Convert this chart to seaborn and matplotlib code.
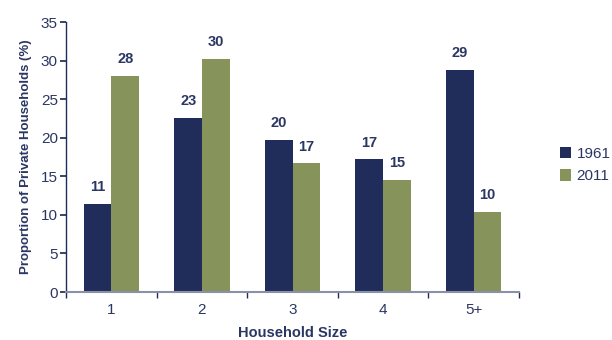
import matplotlib
matplotlib.use("Agg")
import matplotlib.pyplot as plt
import seaborn as sns
import pandas as pd
import numpy as np

categories = ["1", "2", "3", "4", "5+"]
years = ["1961", "2011"]
values_1961 = [11.4, 22.6, 19.7, 17.2, 28.8]
values_2011 = [28.0, 30.2, 16.7, 14.5, 10.4]
labels_1961 = ["11", "23", "20", "17", "29"]
labels_2011 = ["28", "30", "17", "15", "10"]

df = pd.DataFrame({
    "size": categories * 2,
    "year": [years[0]] * 5 + [years[1]] * 5,
    "value": values_1961 + values_2011,
    "label": labels_1961 + labels_2011,
})

navy = "#202D5A"
olive = "#86935B"
txt = "#2B3763"

sns.set_theme(style="white")
plt.rcParams["font.family"] = ["Liberation Sans", "DejaVu Sans"]

fig = plt.figure(figsize=(6.12, 3.4), dpi=100)
ax = fig.add_axes([0.108, 0.141, 0.740, 0.794])

sns.barplot(data=df, x="size", y="value", hue="year", order=categories,
            hue_order=years, palette=[navy, olive], width=0.61,
            saturation=1, linewidth=0, ax=ax, legend=True)

for container, labs in zip(ax.containers, [labels_1961, labels_2011]):
    ax.bar_label(container, labels=labs, padding=7, fontsize=10.5,
                 fontweight="bold", color=txt)

ax.set_ylim(0, 35)
ax.set_yticks(np.arange(0, 36, 5))
ax.set_xlim(-0.5, 4.5)
ax.set_ylabel("Proportion of Private Households (%)", fontsize=9.5,
              fontweight="bold", color=txt, labelpad=6)
ax.set_xlabel("Household Size", fontsize=10.5, fontweight="bold", color=txt,
              labelpad=6)

for s in ["top", "right"]:
    ax.spines[s].set_visible(False)
ax.spines["left"].set_color(navy)
ax.spines["left"].set_linewidth(1.0)
ax.spines["bottom"].set_color("#8A90A8")
ax.spines["bottom"].set_linewidth(1.5)

ax.tick_params(axis="y", which="major", direction="out", length=4,
               color=navy, labelsize=11, labelcolor=txt, left=True, pad=2)
ax.tick_params(axis="x", which="major", length=0, labelsize=11,
               labelcolor=txt, pad=8)
ax.set_xticks(np.arange(-0.5, 5, 1), minor=True)
ax.tick_params(axis="x", which="minor", direction="out", length=4,
               color=navy, bottom=True)

leg = ax.legend(loc="center left", bbox_to_anchor=(1.06, 0.47), frameon=False,
                fontsize=11, handlelength=0.75, handleheight=0.75,
                handletextpad=0.35, labelspacing=0.55)
for t in leg.get_texts():
    t.set_color(txt)

fig.savefig("out.png", dpi=100)
